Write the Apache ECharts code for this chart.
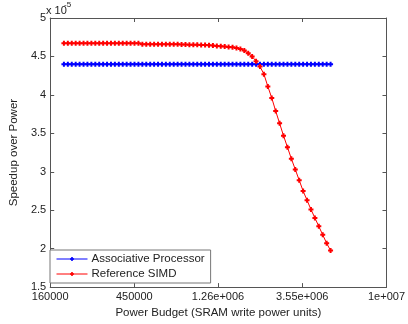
<!DOCTYPE html>
<html>
<head>
<meta charset="utf-8">
<script src="https://cdn.jsdelivr.net/npm/echarts@6/dist/echarts.min.js"></script>
<style>
html,body{margin:0;padding:0;background:#fff;}
#chart{width:408px;height:324px;}
</style>
</head>
<body>
<div id="chart"></div>
<script>
// Power budget (SRAM write power units)
const budget = [
  189400, 198800, 208600, 218900, 229700, 241100, 252900, 265500, 278600, 292400,
  306800, 321900, 337900, 354500, 372100, 390400, 409700, 429900, 451100, 473400,
  496800, 521300, 547100, 574100, 602600, 632300, 663500, 696300, 730700, 766800,
  804700, 844400, 886100, 929900, 975900, 1024000, 1074500, 1127700, 1183400, 1241900,
  1303200, 1367600, 1435200, 1506100, 1580600, 1658600, 1740500, 1826500, 1916700, 2011500,
  2110800, 2215000, 2324600, 2439300, 2560000, 2686400, 2818400, 2958000, 3104000, 3257600,
  3418500, 3587200, 3764700, 3950500, 4146000, 4350700, 4565500, 4791500, 5028000
];
// Speedup over power (x 10^-5)
const assocSpeedup = [
  4.4, 4.4, 4.4, 4.4, 4.4, 4.4, 4.4, 4.4, 4.4, 4.4,
  4.4, 4.4, 4.4, 4.4, 4.4, 4.4, 4.4, 4.4, 4.4, 4.4,
  4.4, 4.4, 4.4, 4.4, 4.4, 4.4, 4.4, 4.4, 4.4, 4.4,
  4.4, 4.4, 4.4, 4.4, 4.4, 4.4, 4.4, 4.4, 4.4, 4.4,
  4.4, 4.4, 4.4, 4.4, 4.4, 4.4, 4.4, 4.4, 4.4, 4.4,
  4.4, 4.4, 4.4, 4.4, 4.4, 4.4, 4.4, 4.4, 4.4, 4.4,
  4.4, 4.4, 4.4, 4.4, 4.4, 4.4, 4.4, 4.4, 4.4
];
const simdSpeedup = [
  4.67, 4.67, 4.67, 4.67, 4.67, 4.67, 4.67, 4.67, 4.67, 4.67,
  4.67, 4.67, 4.67, 4.67, 4.67, 4.67, 4.67, 4.67, 4.67, 4.67,
  4.66, 4.66, 4.66, 4.66, 4.66, 4.66, 4.66, 4.66, 4.66, 4.66,
  4.655, 4.655, 4.653, 4.652, 4.651, 4.65, 4.65, 4.646, 4.641, 4.637,
  4.633, 4.628, 4.624, 4.62, 4.611, 4.598, 4.576, 4.542, 4.498, 4.439,
  4.369, 4.27, 4.11, 3.96, 3.79, 3.63, 3.47, 3.32, 3.17, 3.03,
  2.89, 2.75, 2.63, 2.51, 2.40, 2.29, 2.18, 2.07, 1.975
];
const seriesNames = ['Associative Processor', 'Reference SIMD'];
const xTickValues = [160000, 450000, 1260000, 3550000, 10000000];
const xTickLabels = ['160000', '450000', '1.26e+006', '3.55e+006', '1e+007'];
const yMin = 1.5, yMax = 5, yStep = 0.5;

const xMinLog = Math.log10(xTickValues[0]);
const xMaxLog = Math.log10(xTickValues[xTickValues.length - 1]);
const tickLogs = xTickValues.map(v => Math.log10(v));
tickLogs[0] = xMinLog; tickLogs[tickLogs.length - 1] = xMaxLog;

const FONT = '"Liberation Sans", Arial, sans-serif';
const axisColor = '#555';
const plusSym = 'path://M1.5,0h2v1.5h1.5v2h-1.5v1.5h-2v-1.5h-1.5v-2h1.5z';

function pts(ys) { return budget.map((b, i) => [Math.log10(b), ys[i]]); }

const chart = echarts.init(document.getElementById('chart'), null, {renderer: 'canvas'});
const xBase = {
  type: 'value', min: xMinLog, max: xMaxLog,
  axisLine: {show: true, lineStyle: {color: axisColor, width: 1}},
  axisTick: {show: true, inside: true, length: 4, customValues: tickLogs, lineStyle: {color: axisColor}},
  splitLine: {show: false}
};
const yBase = {
  type: 'value', min: yMin, max: yMax, interval: yStep,
  axisLine: {show: true, lineStyle: {color: axisColor, width: 1}},
  axisTick: {show: true, inside: true, length: 4, lineStyle: {color: axisColor}},
  splitLine: {show: false}
};
chart.setOption({
  animation: false,
  backgroundColor: '#fff',
  grid: {left: 45, right: 20, top: 18, bottom: 36, containLabel: false},
  xAxis: [
    Object.assign({}, xBase, {
      position: 'bottom',
      name: 'Power Budget (SRAM write power units)',
      nameLocation: 'middle', nameGap: 19,
      nameTextStyle: {fontFamily: FONT, fontSize: 11.5, color: '#222'},
      axisLabel: {
        show: true, margin: 4, customValues: tickLogs,
        fontFamily: FONT, fontSize: 11, color: '#222',
        formatter: function (v) {
          let best = 0, bd = Infinity;
          tickLogs.forEach((t, i) => { const d = Math.abs(t - v); if (d < bd) { bd = d; best = i; } });
          return xTickLabels[best];
        }
      }
    }),
    Object.assign({}, xBase, {position: 'top', axisLabel: {show: false}})
  ],
  yAxis: [
    Object.assign({}, yBase, {
      position: 'left',
      name: 'Speedup over Power',
      nameLocation: 'middle', nameGap: 26,
      nameTextStyle: {fontFamily: FONT, fontSize: 11.5, color: '#222'},
      axisLabel: {show: true, margin: 4, fontFamily: FONT, fontSize: 11, color: '#222'}
    }),
    Object.assign({}, yBase, {position: 'right', axisLabel: {show: false}})
  ],
  legend: {
    orient: 'vertical', left: 50, top: 250,
    backgroundColor: '#fff', borderColor: '#777', borderWidth: 1,
    padding: [3, 6, 3, 6], itemGap: 3, itemWidth: 31, itemHeight: 5,
    lineStyle: {width: 1},
    textStyle: {fontFamily: FONT, fontSize: 11.5, color: '#222', padding: [0, 0, 0, -1]},
    data: seriesNames
  },
  graphic: [
    {type: 'text', left: 46, top: 5, style: {text: 'x 10', font: '11px ' + FONT, fill: '#222'}},
    {type: 'text', left: 64, top: 1, style: {text: '-5', font: '8px ' + FONT, fill: '#222'}}
  ],
  series: [
    {
      name: seriesNames[0], type: 'line', xAxisIndex: 0, yAxisIndex: 0,
      data: pts(assocSpeedup), color: '#0000ff',
      symbol: plusSym, symbolSize: 5, showAllSymbol: true,
      lineStyle: {width: 1, color: '#0000ff'}, itemStyle: {color: '#0000ff'}
    },
    {
      name: seriesNames[1], type: 'line', xAxisIndex: 0, yAxisIndex: 0,
      data: pts(simdSpeedup), color: '#ff0000',
      symbol: plusSym, symbolSize: 5, showAllSymbol: true,
      lineStyle: {width: 1, color: '#ff0000'}, itemStyle: {color: '#ff0000'}
    }
  ]
});
</script>
</body>
</html>
